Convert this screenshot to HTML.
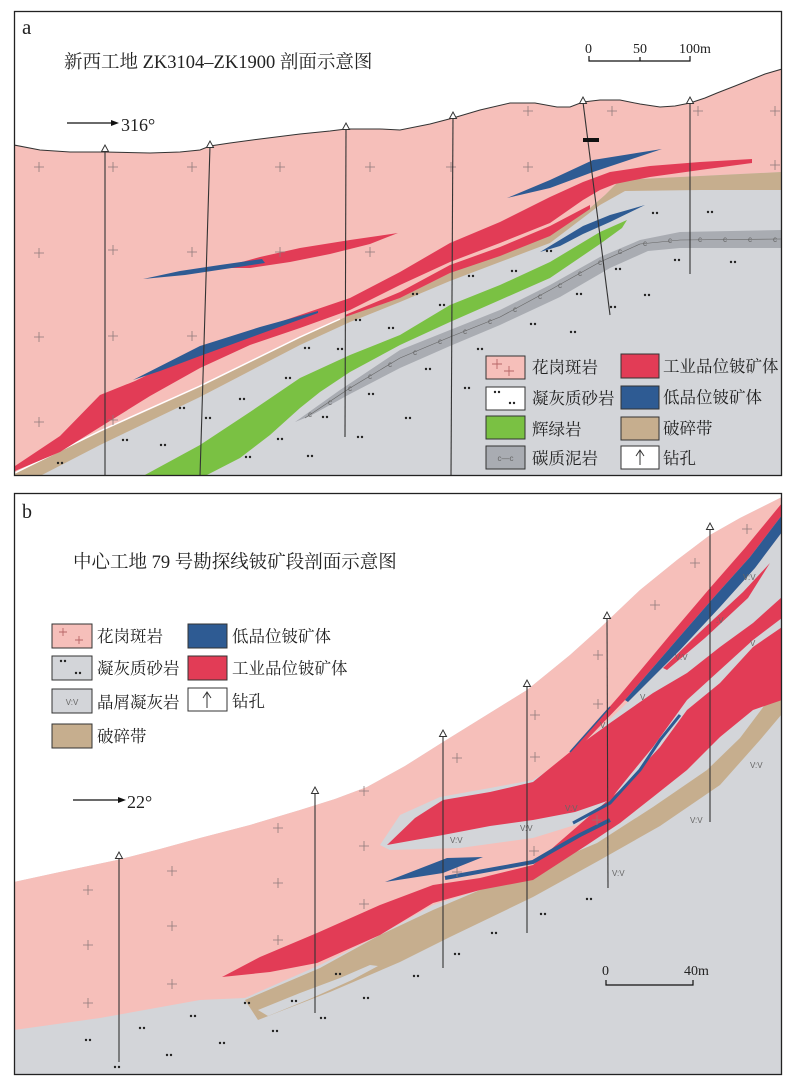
<!DOCTYPE html>
<html>
<head>
<meta charset="utf-8">
<style>
html,body{margin:0;padding:0;background:#fff;}
svg{display:block;}
.t{font-family:"Liberation Serif","Noto Serif CJK SC",serif;fill:#222;}
.v{font-family:"Liberation Sans",sans-serif;font-size:8px;fill:#666;}
</style>
</head>
<body>
<svg width="804" height="1080" viewBox="0 0 804 1080" xmlns="http://www.w3.org/2000/svg" xmlns:xlink="http://www.w3.org/1999/xlink">
<defs>
  <g id="x"><path d="M-5,0H5M0,-5V5" stroke="#8c7a7a" stroke-width="0.8" fill="none"/></g>
  <g id="d"><circle cx="-2" cy="0" r="1.2" fill="#222"/><circle cx="2" cy="0" r="1.2" fill="#222"/></g>
  <clipPath id="cA"><rect x="15" y="12" width="766" height="463"/></clipPath>
  <clipPath id="cB"><rect x="15" y="494" width="766" height="580"/></clipPath>
</defs>

<rect x="0" y="0" width="804" height="1080" fill="#fff"/>

<!-- ================= PANEL A ================= -->
<g clip-path="url(#cA)">
  <polygon fill="#f6bfba" points="14,145 40,150 70,152 105,152 150,153 180,152 200,150 210,146 230,143 260,139 300,134 330,131 346,129 380,129 400,130 430,124 453,118 480,110 510,103 535,103 557,107 570,107 583,102 600,100 620,100 640,104 660,107 675,106 690,103 705,98 717,93 735,86 750,80 765,74 782,69 782,476 14,476"/>
  <polygon fill="#d3d5d9" points="14,476 14,474 100,432 200,387 300,338 350,315 400,298 450,273 500,255 550,234 590,208 605,195 620,180 700,176 782,172 782,476"/>
  <polygon fill="#c6ae8e" points="14,474 100,432 200,387 300,338 350,315 400,298 450,273 500,255 550,234 590,208 605,195 620,180 700,176 782,172 782,190 700,190 625,191 600,205 550,243 500,262 450,281 400,302 350,322 300,345 200,397 100,445 40,476 14,476"/>
  <polyline fill="none" stroke="#fff" stroke-width="1.5" points="15,473 100,431 200,386 300,337 340,319"/>
  <polygon fill="#a9acb2" points="295,422 340,390 400,350 450,330 500,310 550,285 600,257 640,240 680,232 782,230 782,248 680,248 648,251 610,268 560,297 500,325 450,346 400,368 350,394 310,416"/>
  <polyline fill="none" stroke="#666" stroke-width="0.6" points="305,418 350,388 400,358 450,337 500,317 550,290 600,262 640,244 680,240 782,239"/>
  <g class="v" font-size="7" fill="#555">
    <text x="308" y="417">c</text><text x="328" y="405">c</text><text x="348" y="391">c</text><text x="368" y="379">c</text><text x="388" y="367">c</text><text x="413" y="355">c</text><text x="438" y="344">c</text><text x="463" y="334">c</text><text x="488" y="324">c</text><text x="513" y="312">c</text><text x="538" y="299">c</text><text x="558" y="288">c</text><text x="578" y="276">c</text><text x="598" y="265">c</text><text x="618" y="254">c</text><text x="643" y="246">c</text><text x="668" y="243">c</text><text x="698" y="242">c</text><text x="723" y="242">c</text><text x="748" y="242">c</text><text x="773" y="242">c</text>
  </g>
  <polygon fill="#7ac143" points="143,476 200,445 250,412 300,378 350,355 400,335 450,305 500,285 550,262 600,232 627,220 622,228 600,244 550,278 500,300 450,322 400,345 350,372 320,392 300,408 270,435 240,458 205,476"/>
  <polygon fill="#e23c56" points="15,466 60,436 100,395 135,381 195,352 250,332 300,315 350,298 400,272 450,243 500,222 550,197 583,182 610,172 650,166 700,162 752,159 752,163 700,170 650,177 615,184 600,190 583,200 550,223 500,243 450,262 400,285 350,310 300,328 250,345 200,368 150,396 105,424 60,452 15,471"/>
  <polygon fill="#e23c56" points="345,315 400,292 450,265 500,247 550,226 590,205 590,209 550,236 500,256 450,273 400,298 345,317"/>
  <polygon fill="#e23c56" points="220,268 260,257 300,248 350,240 398,233 370,244 330,254 290,262 250,268"/>
  <polygon fill="#2e5b93" points="143,279 180,271 220,265 262,259 265,263 225,269 185,275"/>
  <polygon fill="#2e5b93" points="507,198 550,180 593,160 662,149 620,163 593,172 550,188"/>
  <polygon fill="#2e5b93" points="133,380 200,346 260,327 318,311 318,313 260,334 200,356 160,371"/>
  <polygon fill="#2e5b93" points="540,252 583,226 610,215 645,205 610,222 583,234 560,246"/>

  <use href="#x" x="39" y="167"/><use href="#x" x="113" y="167"/><use href="#x" x="192" y="167"/><use href="#x" x="280" y="167"/><use href="#x" x="370" y="167"/>
  <use href="#x" x="528" y="111"/><use href="#x" x="612" y="111"/><use href="#x" x="698" y="111"/><use href="#x" x="775" y="111"/>
  <use href="#x" x="451" y="167"/><use href="#x" x="528" y="167"/><use href="#x" x="775" y="165"/>
  <use href="#x" x="39" y="253"/><use href="#x" x="113" y="250"/><use href="#x" x="192" y="252"/><use href="#x" x="280" y="252"/><use href="#x" x="370" y="252"/>
  <use href="#x" x="39" y="337"/><use href="#x" x="113" y="336"/><use href="#x" x="192" y="336"/>
  <use href="#x" x="39" y="422"/><use href="#x" x="113" y="420"/>
  <use href="#d" x="60" y="463"/><use href="#d" x="125" y="440"/><use href="#d" x="163" y="445"/><use href="#d" x="182" y="408"/><use href="#d" x="208" y="418"/><use href="#d" x="242" y="399"/><use href="#d" x="248" y="457"/><use href="#d" x="280" y="439"/><use href="#d" x="288" y="378"/><use href="#d" x="307" y="348"/><use href="#d" x="310" y="456"/><use href="#d" x="325" y="417"/><use href="#d" x="340" y="349"/><use href="#d" x="358" y="320"/><use href="#d" x="360" y="437"/><use href="#d" x="371" y="394"/><use href="#d" x="391" y="328"/><use href="#d" x="415" y="294"/><use href="#d" x="428" y="369"/><use href="#d" x="442" y="305"/><use href="#d" x="467" y="388"/><use href="#d" x="471" y="276"/><use href="#d" x="480" y="349"/><use href="#d" x="408" y="418"/><use href="#d" x="514" y="271"/><use href="#d" x="533" y="324"/><use href="#d" x="549" y="251"/><use href="#d" x="573" y="332"/><use href="#d" x="579" y="294"/><use href="#d" x="613" y="307"/><use href="#d" x="618" y="269"/><use href="#d" x="647" y="295"/><use href="#d" x="655" y="213"/><use href="#d" x="677" y="260"/><use href="#d" x="710" y="212"/><use href="#d" x="733" y="262"/>

  <polyline fill="none" stroke="#333" stroke-width="1" points="14,145 40,150 70,152 105,152 150,153 180,152 200,150 210,146 230,143 260,139 300,134 330,131 346,129 380,129 400,130 430,124 453,118 480,110 510,103 535,103 557,107 570,107 583,102 600,100 620,100 640,104 660,107 675,106 690,103 705,98 717,93 735,86 750,80 765,74 782,69"/>

  <g stroke="#333" stroke-width="1.1">
    <line x1="105" y1="150" x2="105" y2="476"/>
    <line x1="210" y1="146" x2="200" y2="476"/>
    <line x1="346" y1="128" x2="345" y2="437"/>
    <line x1="453" y1="117" x2="451" y2="476"/>
    <line x1="583" y1="102" x2="610" y2="315"/>
    <line x1="690" y1="102" x2="690" y2="274"/>
  </g>
  <g fill="#fff" stroke="#333" stroke-width="1">
    <polygon points="101.5,151.5 108.5,151.5 105,145"/>
    <polygon points="206.5,147.5 213.5,147.5 210,141"/>
    <polygon points="342.5,129.5 349.5,129.5 346,123"/>
    <polygon points="449.5,118.5 456.5,118.5 453,112"/>
    <polygon points="579.5,103.5 586.5,103.5 583,97"/>
    <polygon points="686.5,103.5 693.5,103.5 690,97"/>
  </g>
  <rect x="583" y="138" width="16" height="4" fill="#111"/>

  <g stroke="#333" stroke-width="1">
    <rect x="486" y="356" width="39" height="23" fill="#f6bfba"/>
    <rect x="486" y="387" width="39" height="23" fill="#fff"/>
    <rect x="486" y="416" width="39" height="23" fill="#7ac143"/>
    <rect x="486" y="446" width="39" height="23" fill="#a9acb2"/>
    <rect x="621" y="354" width="38" height="24" fill="#e23c56"/>
    <rect x="621" y="386" width="38" height="23" fill="#2e5b93"/>
    <rect x="621" y="417" width="38" height="23" fill="#c6ae8e"/>
    <rect x="621" y="446" width="38" height="23" fill="#fff"/>
  </g>
  <path d="M492,364H502M497,359V369M504,371H514M509,366V376" stroke="#b76666" stroke-width="0.9"/>
  <use href="#d" x="497" y="392"/><use href="#d" x="512" y="403"/>
  <text x="505.5" y="461" text-anchor="middle" class="v" font-size="8" fill="#555">c—c</text>
  <path d="M640,465V451M636,456L640,450L644,456" stroke="#333" stroke-width="1" fill="none"/>
  <g class="t" font-size="16.5">
    <text x="532" y="373">花岗斑岩</text>
    <text x="532" y="404">凝灰质砂岩</text>
    <text x="532" y="435">辉绿岩</text>
    <text x="532" y="464">碳质泥岩</text>
    <text x="663" y="372">工业品位铍矿体</text>
    <text x="663" y="403">低品位铍矿体</text>
    <text x="663" y="434">破碎带</text>
    <text x="663" y="464">钻孔</text>
  </g>
</g>

<text x="22" y="34" class="t" font-size="21">a</text>
<text x="64" y="68" class="t" font-size="18.5">新西工地 ZK3104–ZK1900 剖面示意图</text>
<path d="M67,123H112" stroke="#111" stroke-width="1.2"/>
<polygon points="111,120 119,123 111,126" fill="#111"/>
<text x="121" y="131" class="t" font-size="18">316°</text>
<g class="t" font-size="14">
  <text x="585" y="53">0</text>
  <text x="633" y="53">50</text>
  <text x="679" y="53">100m</text>
</g>
<path d="M589,56V61H690V56M640,57V61" stroke="#111" stroke-width="1.2" fill="none"/>

<rect x="14.5" y="11.5" width="767" height="464" fill="none" stroke="#222" stroke-width="1.3"/>

<!-- ================= PANEL B ================= -->
<g clip-path="url(#cB)">
  <polygon fill="#d3d5d9" points="14,882 60,872 117,860 160,849 200,838 250,825 300,810 335,799 367,787 405,766 443,742 485,716 527,690 570,655 600,628 640,590 677,560 710,535 740,518 760,508 782,497 782,1075 14,1075"/>
  <polygon fill="#f6bfba" points="14,882 60,872 117,860 160,849 200,838 250,825 300,810 335,799 367,787 405,766 443,742 485,716 527,690 570,655 600,628 640,590 677,560 710,535 740,518 760,508 782,497 782,700 753,710 720,737 687,770 653,797 620,823 587,845 533,880 480,890 433,905 380,935 320,965 245,998 200,1000 100,1018 14,1030"/>
  <polygon fill="#c6ae8e" points="245,1000 320,968 380,935 433,910 480,890 533,870 597,843 653,807 707,770 740,738 767,702 782,698 782,714 760,740 720,785 660,826 600,860 533,897 450,937 400,962 330,992 258,1020"/>
  <polygon fill="#d3d5d9" points="258,1010 300,993 340,978 370,965 378,966 352,980 312,998 268,1016"/>
  <polygon fill="#d3d5d9" points="782,532 755,568 720,607 680,650 628,702 575,752 560,763 533,780 490,788 440,797 400,815 380,845 390,850 460,848 533,838 575,825 610,808 640,775 665,745 690,712 720,685 753,648 782,628"/>
  <polygon fill="#e23c56" points="782,627 753,647 720,683 687,710 660,747 620,790 587,818 533,865 480,878 433,885 380,905 317,933 260,957 222,977 270,972 317,963 380,935 433,903 480,890 533,880 587,845 620,823 653,797 687,770 720,737 753,710 782,700"/>
  <polygon fill="#e23c56" points="782,597 753,623 720,647 687,673 653,693 610,723 570,752 533,782 490,792 443,800 415,818 387,845 443,835 490,826 533,820 575,812 610,800 630,775 653,747 687,700 720,670 753,640 782,618"/>
  <polygon fill="#e23c56" points="663,668 700,632 743,592 770,563 748,598 705,638 667,670"/>
  <polygon fill="#e23c56" points="570,752 620,695 670,635 710,588 745,548 782,503 782,515 750,557 715,596 675,642 625,700 575,752"/>
  <polygon fill="#2e5b93" points="625,700 675,642 715,596 750,557 782,515 782,532 755,568 720,607 680,650 628,702"/>
  <polyline fill="none" stroke="#2e5b93" stroke-width="1.5" points="570,752 610,707"/>
  <polygon fill="#2e5b93" points="385,882 447,858 483,857 443,873"/>
  <polyline fill="none" stroke="#2e5b93" stroke-width="4" points="445,878 500,868 533,862 550,852 580,835 610,820"/>
  <polyline fill="none" stroke="#2e5b93" stroke-width="3" points="573,823 610,803 640,770 660,740 680,715"/>

  <use href="#x" x="88" y="890"/><use href="#x" x="88" y="945"/><use href="#x" x="88" y="1003"/>
  <use href="#x" x="172" y="871"/><use href="#x" x="172" y="926"/><use href="#x" x="172" y="984"/>
  <use href="#x" x="278" y="828"/><use href="#x" x="278" y="883"/><use href="#x" x="278" y="940"/>
  <use href="#x" x="364" y="791"/><use href="#x" x="364" y="846"/><use href="#x" x="364" y="904"/>
  <use href="#x" x="457" y="758"/><use href="#x" x="535" y="715"/><use href="#x" x="535" y="757"/>
  <use href="#x" x="598" y="655"/><use href="#x" x="598" y="704"/><use href="#x" x="655" y="605"/>
  <use href="#x" x="695" y="563"/><use href="#x" x="747" y="529"/><use href="#x" x="534" y="851"/>
  <use href="#x" x="457" y="872"/><use href="#x" x="597" y="820"/>
  <use href="#d" x="88" y="1040"/><use href="#d" x="117" y="1067"/><use href="#d" x="142" y="1028"/><use href="#d" x="169" y="1055"/><use href="#d" x="193" y="1016"/><use href="#d" x="222" y="1043"/><use href="#d" x="247" y="1003"/><use href="#d" x="275" y="1031"/><use href="#d" x="294" y="1001"/><use href="#d" x="323" y="1018"/><use href="#d" x="338" y="974"/><use href="#d" x="366" y="998"/><use href="#d" x="416" y="976"/><use href="#d" x="457" y="954"/><use href="#d" x="494" y="933"/><use href="#d" x="543" y="914"/><use href="#d" x="589" y="899"/>
  <g class="v">
    <text x="450" y="843">V:V</text><text x="520" y="831">V:V</text><text x="565" y="811">V:V</text>
    <text x="612" y="876">V:V</text><text x="690" y="823">V:V</text><text x="716" y="623">:V</text>
    <text x="675" y="660">V:V</text><text x="750" y="768">V:V</text><text x="743" y="580">V:V</text>
    <text x="640" y="700">V</text><text x="750" y="646">V</text><text x="600" y="728">V</text>
  </g>

  <g stroke="#333" stroke-width="1.1">
    <line x1="119" y1="857" x2="119" y2="1062"/>
    <line x1="315" y1="792" x2="315" y2="1013"/>
    <line x1="443" y1="735" x2="443" y2="968"/>
    <line x1="527" y1="685" x2="527" y2="933"/>
    <line x1="607" y1="617" x2="608" y2="888"/>
    <line x1="710" y1="528" x2="710" y2="822"/>
  </g>
  <g fill="#fff" stroke="#333" stroke-width="1">
    <polygon points="115.5,858.5 122.5,858.5 119,852"/>
    <polygon points="311.5,793.5 318.5,793.5 315,787"/>
    <polygon points="439.5,736.5 446.5,736.5 443,730"/>
    <polygon points="523.5,686.5 530.5,686.5 527,680"/>
    <polygon points="603.5,618.5 610.5,618.5 607,612"/>
    <polygon points="706.5,529.5 713.5,529.5 710,523"/>
  </g>
</g>

<text x="22" y="518" class="t" font-size="20">b</text>
<text x="73" y="568" class="t" font-size="18.5">中心工地 79 号勘探线铍矿段剖面示意图</text>
<path d="M73,800H119" stroke="#111" stroke-width="1.2"/>
<polygon points="118,797 126,800 118,803" fill="#111"/>
<text x="127" y="808" class="t" font-size="18">22°</text>
<g class="t" font-size="14">
  <text x="602" y="975">0</text>
  <text x="684" y="975">40m</text>
</g>
<path d="M606,980V985H693V980" stroke="#111" stroke-width="1.2" fill="none"/>

<g stroke="#333" stroke-width="1">
  <rect x="52" y="624" width="40" height="24" fill="#f6bfba"/>
  <rect x="52" y="656" width="40" height="24" fill="#d3d5d9"/>
  <rect x="52" y="689" width="40" height="24" fill="#d3d5d9"/>
  <rect x="52" y="724" width="40" height="24" fill="#c6ae8e"/>
  <rect x="188" y="624" width="39" height="24" fill="#2e5b93"/>
  <rect x="188" y="656" width="39" height="24" fill="#e23c56"/>
  <rect x="188" y="688" width="39" height="23" fill="#fff"/>
</g>
<path d="M59,632H67M63,628V636M75,640H83M79,636V644" stroke="#b76666" stroke-width="0.9"/>
<use href="#d" x="63" y="661"/><use href="#d" x="78" y="673"/>
<text x="72" y="705" text-anchor="middle" class="v" font-size="9">V:V</text>
<path d="M207,708V693M203,698L207,692L211,698" stroke="#333" stroke-width="1" fill="none"/>
<g class="t" font-size="16.5">
  <text x="97" y="642">花岗斑岩</text>
  <text x="97" y="674">凝灰质砂岩</text>
  <text x="97" y="708">晶屑凝灰岩</text>
  <text x="97" y="742">破碎带</text>
  <text x="232" y="642">低品位铍矿体</text>
  <text x="232" y="674">工业品位铍矿体</text>
  <text x="232" y="707">钻孔</text>
</g>

<rect x="14.5" y="493.5" width="767" height="581" fill="none" stroke="#222" stroke-width="1.3"/>
</svg>
</body>
</html>
